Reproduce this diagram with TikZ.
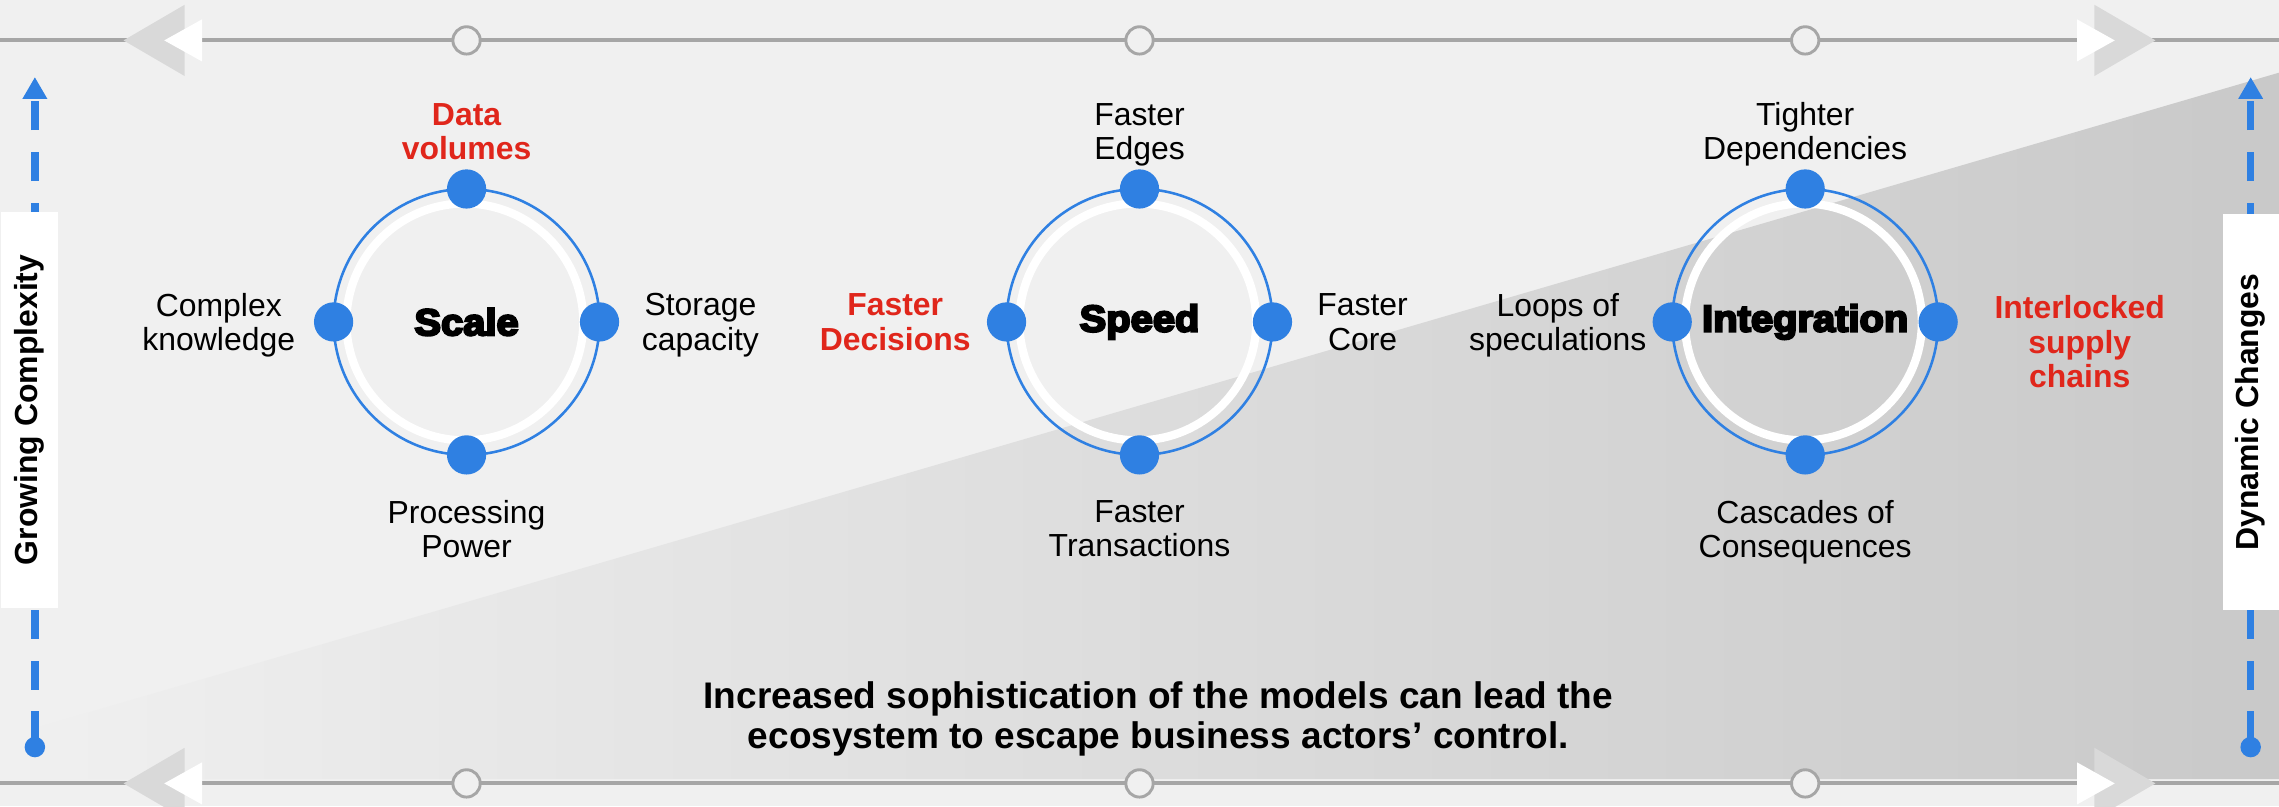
\documentclass[tikz,border=0pt]{standalone}
\usepackage{fontspec}
\setmainfont{Liberation Sans}
\newfontfamily\blackfont[UprightFont=* Bold,FakeBold=6,FakeStretch=1.07]{Liberation Sans}
\usetikzlibrary{arrows.meta,positioning,calc}
\definecolor{dotblue}{RGB}{47,128,226}
\definecolor{hotred}{RGB}{224,38,27}
\definecolor{railgray}{RGB}{166,166,166}
\definecolor{chevgray}{RGB}{217,217,217}
\definecolor{paper}{RGB}{240,240,240}
\definecolor{shadegray}{RGB}{201,201,201}
\tikzset{
    hub/.style={
        circle,
        draw=dotblue,
        line width=1pt,
        minimum size=3.66cm,
        inner sep=0pt,
        outer sep=0pt,
        font=\blackfont\fontsize{14.6}{15}\selectfont,
    },
    knob/.style={
        circle,
        fill=dotblue,
        minimum size=0.54cm,
        inner sep=0pt,
    },
    lbl/.style={
        align=center,
        inner sep=0pt,
        text depth=0pt,
        font=\fontsize{12.5}{13.4}\selectfont,
    },
    hot/.style={
        lbl,
        text=hotred,
        font=\bfseries\fontsize{12.5}{13.4}\selectfont,
    },
    stop/.style={
        circle,
        draw=railgray,
        fill=paper,
        line width=0.04cm,
        minimum size=0.376cm,
        inner sep=0pt,
    },
    rail/.style={draw=railgray, line width=0.055cm},
    flow/.style={
        dotblue,
        line width=0.1cm,
        dash pattern=on 0.4cm off 0.3cm,
        {Circle[length=0.28cm]}-{Triangle[length=0.3cm,width=0.32cm]},
    },
    tag/.style={
        fill=white,
        rotate=90,
        minimum width=5.44cm,
        minimum height=0.775cm,
        inner sep=0pt,
        font=\bfseries\fontsize{12.5}{14}\selectfont,
    },
    note/.style={
        align=center,
        inner sep=0pt,
        font=\bfseries\fontsize{14.5}{15.9}\selectfont,
    },
}

\begin{document}
\begin{tikzpicture}[x=0.02cm,y=-0.02cm]
    \useasboundingbox[fill=paper] (0,0) rectangle (1568,554.6);
    \shade[left color=paper, right color=shadegray] (0,508) -- (1568,50) -- (1568,536) -- (0,536) -- cycle;

    % rails
    \coordinate (railTL) at (0,27.8);
    \coordinate (railTR) at (1568,27.8);
    \coordinate (railBL) at (0,539);
    \coordinate (railBR) at (1568,539);
    \draw[rail] (railTL) -- (railTR);
    \draw[rail] (railBL) -- (railBR);
    \foreach \ry in {27.8,539}{
        \fill[chevgray] (85,\ry) -- (127,{\ry-24.5}) -- (127,{\ry+24.5}) -- cycle;
        \fill[white] (113,\ry) -- (139,{\ry-14.5}) -- (139,{\ry+14.5}) -- cycle;
        \fill[chevgray] (1483,\ry) -- (1441,{\ry-24.5}) -- (1441,{\ry+24.5}) -- cycle;
        \fill[white] (1455,\ry) -- (1429,{\ry-14.5}) -- (1429,{\ry+14.5}) -- cycle;
    }

    % hubs
    \node[hub] (scale) at (321,221.5) {Scale};
    \node[hub] (speed) at (784,221.5) {Speed};
    \node[hub] (integ) at (1242,221.5) {Integration};
    \foreach \h in {scale,speed,integ}{
        \draw[white, line width=0.114cm] ([xshift=-0.024cm]\h.center) circle (81.5);
        \node[stop] (\h-top) at (\h |- railTL) {};
        \node[stop] (\h-bot) at (\h |- railBL) {};
        \foreach \a in {north,east,south,west}
            \node[knob] (\h-\a) at (\h.\a) {};
    }

    % labels
    \node[hot, above=3.5pt of scale-north] (dataVol) {Data\\volumes};
    \node[lbl, left=7pt of scale-west] (complexK) {Complex\\knowledge};
    \node[lbl, right=8.5pt of scale-east] (storageC) {Storage\\capacity};
    \node[lbl, below=9.6pt of scale-south] (procP) {Processing\\Power};

    \node[lbl, above=3.5pt of speed-north] (fastE) {Faster\\Edges};
    \node[hot, left=6pt of speed-west] (fastD) {Faster\\Decisions};
    \node[lbl, right=9.5pt of speed-east] (fastC) {Faster\\Core};
    \node[lbl, below=9.6pt of speed-south] (fastT) {Faster\\Transactions};

    \node[lbl, above=3.5pt of integ-north] (tightD) {Tighter\\Dependencies};
    \node[lbl, left=2pt of integ-west] (loopsS) {Loops of\\speculations};
    \node[hot, right=14pt of integ-east, yshift=-0.27cm] (supplyC) {Interlocked\\supply\\chains};
    \node[lbl, below=9.6pt of integ-south] (cascC) {Cascades of\\Consequences};

    \node[note, anchor=north] (note) at (797,468.5) {Increased sophistication of the models can lead the\\ecosystem to escape business actors’ control.};

    % side arrows
    \coordinate (gcBot) at (24,521);
    \coordinate (gcTop) at (24,53);
    \coordinate (dcBot) at (1548.5,521);
    \coordinate (dcTop) at (1548.5,53);
    \draw[flow] (gcBot) -- (gcTop);
    \draw[flow] (dcBot) -- (dcTop);
    \node[tag] (growC) at (20.25,282) {Growing Complexity};
    \node[tag] (dynC) at (1548.5,283.5) {Dynamic Changes};
\end{tikzpicture}
\end{document}
